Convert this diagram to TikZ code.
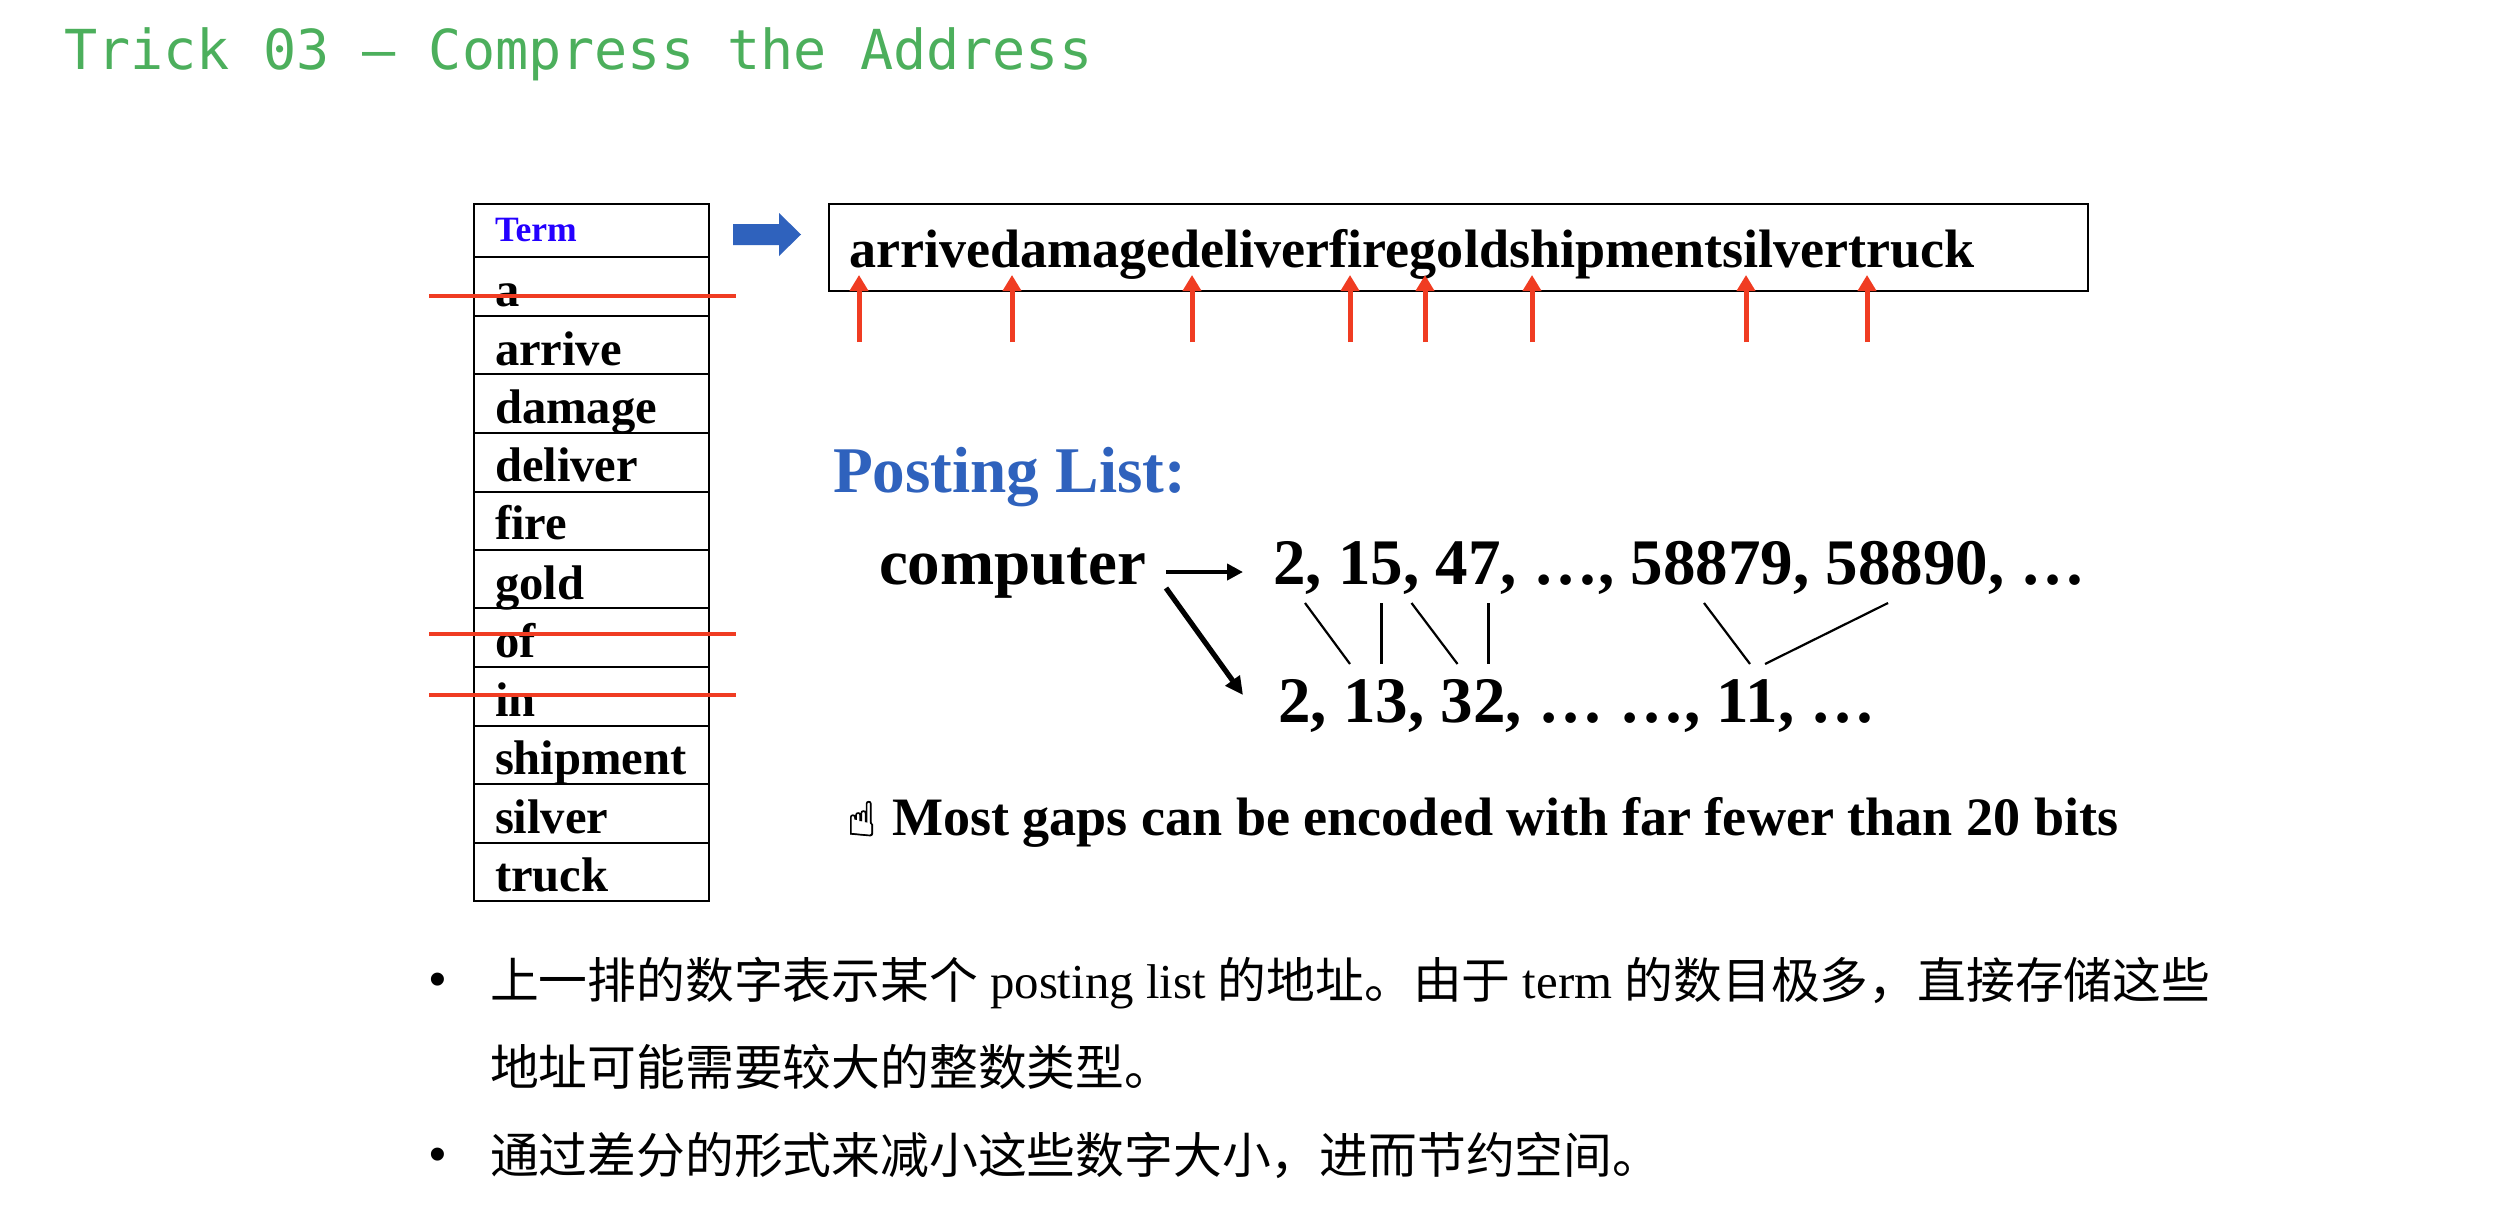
\documentclass[tikz,border=0pt]{standalone}
\usepackage{fontspec}
\setmainfont{Liberation Serif}
\newfontfamily\cjk{Noto Sans CJK SC}
\newfontfamily\titlemono{DejaVu Sans Mono}
\newfontfamily\symfont[FakeBold=1.5]{DejaVu Sans}
\newfontfamily\bulletfont{Liberation Sans}
\usetikzlibrary{arrows.meta}
\definecolor{titlegreen}{HTML}{4CAF5C}
\definecolor{slideblue}{HTML}{2F62BD}
\definecolor{slidered}{HTML}{F03C22}
\definecolor{termblue}{HTML}{2400FF}
\newcommand{\fs}[1]{\fontsize{#1}{#1}\selectfont}
\newcommand{\fwc}{\char"FF0C\relax}
\tikzset{
  txt/.style={anchor=base west,inner sep=0pt,outer sep=0pt},
  rowtext/.style={txt,font=\bfseries\fs{24.3}},
  big/.style={txt,font=\bfseries\fs{32.5}},
  body/.style={txt,font=\fs{24.4}},
  cellbox/.style={draw=black,line width=1.45pt},
  strike/.style={draw=slidered,line width=1.6pt},
  ptr/.style={draw=slidered,line width=2.5pt,-{Triangle[length=8pt,width=9pt]}},
  gap/.style={draw=black,line width=1.1pt},
}
\begin{document}
\begin{tikzpicture}[x=0.5pt,y=-0.5pt]
\useasboundingbox[fill=white] (0,0) rectangle (2514,1226);
% title
\node[txt,font=\titlemono\fs{27.55},text=titlegreen] (title) at (64,69) {Trick 03 — Compress the Address};
% term table
\draw[cellbox] (474,204) rectangle (709,901);
\foreach \yy in {257,316,374,433,492,550,608,667,726,784,843}
  \draw[cellbox] (474,\yy) -- (709,\yy);
\node[txt,font=\bfseries\fs{17.8},text=termblue] (term) at (495,241) {Term};
\foreach \nm/\yy in {a/306,arrive/365,damage/423,deliver/481,fire/539,gold/599,of/657,in/716,shipment/774,silver/833,truck/891}
  \node[rowtext] (row-\nm) at (495,\yy) {\nm};
% strikes
\draw[strike] (429,296) -- (736,296);
\draw[strike] (429,634) -- (736,634);
\draw[strike] (429,695) -- (736,695);
% block arrow
\fill[slideblue] (733,224) -- (779,224) -- (779,213) -- (801,234.5) -- (779,256) -- (779,245) -- (733,245) -- cycle;
% address box
\draw[cellbox] (829,204) rectangle (2088,291);
\node[txt,font=\bfseries\fs{27.05}] (addr) at (849,267) {arrivedamagedeliverfiregoldshipmentsilvertruck};
\foreach \i/\xx in {1/859,2/1012,3/1192,4/1350,5/1425,6/1532,7/1746,8/1867}{
  \coordinate (pb\i) at (\xx,342);
  \coordinate (pt\i) at (\xx,275);
  \draw[ptr] (pb\i) -- (pt\i);
}
% posting list
\node[txt,font=\bfseries\fs{32.6},text=slideblue] (posting) at (833,492) {Posting List:};
\node[big] (computer) at (879,584) {computer};
\node[big] (row1) at (1273,584) {2, 15, 47, …, 58879, 58890, …};
\node[big] (row2) at (1278,722) {2, 13, 32, … …, 11, …};
\coordinate (c1) at (1166,572);
\coordinate (c1e) at (1243,572);
\coordinate (c2) at (1166,588);
\coordinate (c2e) at (1243,695);
\draw[line width=2.1pt,-{Triangle[length=8pt,width=8pt]}] (c1) -- (c1e);
\draw[line width=2.6pt,-{Triangle[length=9pt,width=8.5pt]}] (c2) -- (c2e);
\foreach \i/\xa/\xb in {1/1305/1350,2/1381.5/1381.5,3/1411.5/1457.5,4/1488.5/1488.5,5/1704/1750,6/1888/1765}{
  \coordinate (ga\i) at (\xa,603);
  \coordinate (gb\i) at (\xb,664);
  \draw[gap] (ga\i) -- (gb\i);
}
% note
\node[txt,font=\symfont\fs{24}] (hand) at (847,836) {☝};
\node[txt,font=\bfseries\fs{27.05}] (note) at (892,835) {Most gaps can be encoded with far fewer than 20 bits};
% bullets
\node[anchor=center,inner sep=0pt,font=\bulletfont\fs{24}] (b1) at (438,984) {•};
\node[anchor=center,inner sep=0pt,font=\bulletfont\fs{24}] (b2) at (438,1159) {•};
\node[body] (l1) at (490,998) {{\cjk 上一排的数字表示某个} posting list {\cjk 的地址。由于} term {\cjk 的数目极多\fwc 直接存储这些}};
\node[body] (l2) at (490,1085) {\cjk 地址可能需要较大的整数类型。};
\node[body] (l3) at (490,1173) {\cjk 通过差分的形式来减小这些数字大小\fwc 进而节约空间。};
\end{tikzpicture}
\end{document}
